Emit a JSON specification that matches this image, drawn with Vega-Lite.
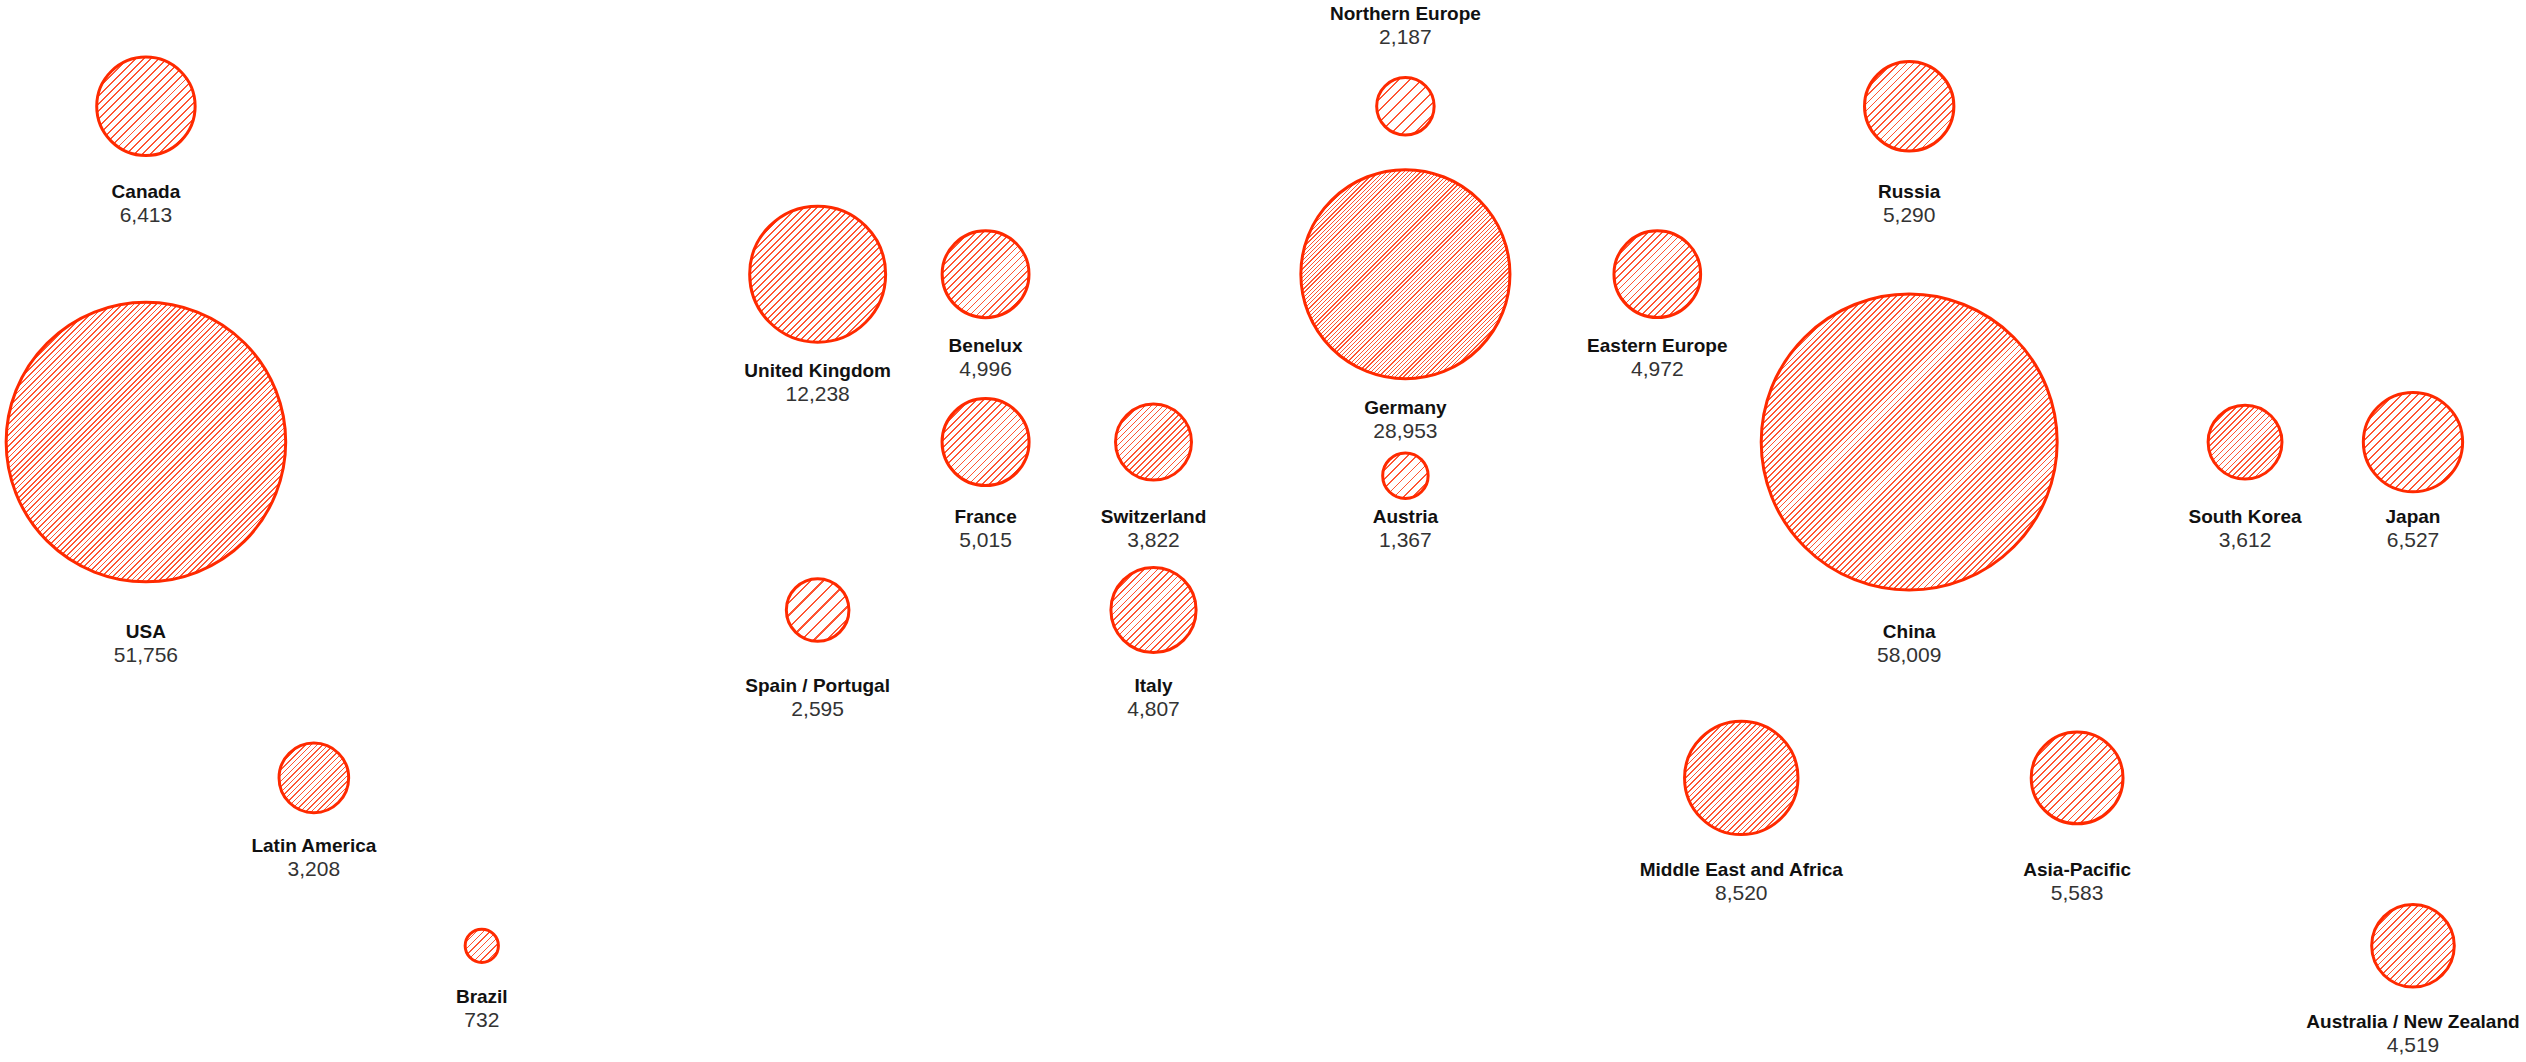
{
  "$schema": "https://vega.github.io/schema/vega-lite/v6.json",
  "width": 2526,
  "height": 1062,
  "autosize": {"type": "fit", "contains": "padding"},
  "padding": 0,
  "background": "white",
  "config": {"view": {"stroke": null}},
  "data": {"values": [
    {"name": "Canada", "value": 6413, "gx": 0, "gy": 0, "ly": 0.509},
    {"name": "USA", "value": 51756, "gx": 0, "gy": 2, "ly": 3.13},
    {"name": "Latin America", "value": 3208, "gx": 1, "gy": 4, "ly": 4.405},
    {"name": "Brazil", "value": 732, "gx": 2, "gy": 5, "ly": 5.307},
    {"name": "United Kingdom", "value": 12238, "gx": 4, "gy": 1, "ly": 1.574},
    {"name": "Benelux", "value": 4996, "gx": 5, "gy": 1, "ly": 1.43},
    {"name": "France", "value": 5015, "gx": 5, "gy": 2, "ly": 2.447},
    {"name": "Switzerland", "value": 3822, "gx": 6, "gy": 2, "ly": 2.447},
    {"name": "Spain / Portugal", "value": 2595, "gx": 4, "gy": 3, "ly": 3.455},
    {"name": "Italy", "value": 4807, "gx": 6, "gy": 3, "ly": 3.455},
    {"name": "Northern Europe", "value": 2187, "gx": 7.5, "gy": 0, "ly": -0.547},
    {"name": "Germany", "value": 28953, "gx": 7.5, "gy": 1, "ly": 1.795},
    {"name": "Austria", "value": 1367, "gx": 7.5, "gy": 2.2, "ly": 2.447},
    {"name": "Eastern Europe", "value": 4972, "gx": 9, "gy": 1, "ly": 1.43},
    {"name": "Russia", "value": 5290, "gx": 10.5, "gy": 0, "ly": 0.509},
    {"name": "China", "value": 58009, "gx": 10.5, "gy": 2, "ly": 3.13},
    {"name": "South Korea", "value": 3612, "gx": 12.5, "gy": 2, "ly": 2.447},
    {"name": "Japan", "value": 6527, "gx": 13.5, "gy": 2, "ly": 2.447},
    {"name": "Middle East and Africa", "value": 8520, "gx": 9.5, "gy": 4, "ly": 4.549},
    {"name": "Asia-Pacific", "value": 5583, "gx": 11.5, "gy": 4, "ly": 4.549},
    {"name": "Australia / New Zealand", "value": 4519, "gx": 13.5, "gy": 5, "ly": 5.451}
  ]},
  "encoding": {
    "x": {"field": "gx", "type": "quantitative", "scale": {"domain": [-0.863, 14.173], "nice": false, "zero": false}, "axis": null}
  },
  "layer": [
    {
      "transform": [{"filter": "datum.value > 20000"}],
      "mark": {"type": "circle", "stroke": "#ff2a00", "strokeWidth": 3, "opacity": 1,
        "fill": {"gradient": "linear", "x1": 0, "y1": 0, "x2": 1, "y2": 1, "stops": [
{"offset":0,"color":"#f53"},{"offset":0.003,"color":"#f53"},{"offset":0.003,"color":"#fff"},{"offset":0.01,"color":"#fff"},
{"offset":0.01,"color":"#f53"},{"offset":0.013,"color":"#f53"},{"offset":0.013,"color":"#fff"},{"offset":0.02,"color":"#fff"},
{"offset":0.02,"color":"#f53"},{"offset":0.023,"color":"#f53"},{"offset":0.023,"color":"#fff"},{"offset":0.03,"color":"#fff"},
{"offset":0.03,"color":"#f53"},{"offset":0.033,"color":"#f53"},{"offset":0.033,"color":"#fff"},{"offset":0.04,"color":"#fff"},
{"offset":0.04,"color":"#f53"},{"offset":0.043,"color":"#f53"},{"offset":0.043,"color":"#fff"},{"offset":0.05,"color":"#fff"},
{"offset":0.05,"color":"#f53"},{"offset":0.053,"color":"#f53"},{"offset":0.053,"color":"#fff"},{"offset":0.06,"color":"#fff"},
{"offset":0.06,"color":"#f53"},{"offset":0.063,"color":"#f53"},{"offset":0.063,"color":"#fff"},{"offset":0.07,"color":"#fff"},
{"offset":0.07,"color":"#f53"},{"offset":0.073,"color":"#f53"},{"offset":0.073,"color":"#fff"},{"offset":0.08,"color":"#fff"},
{"offset":0.08,"color":"#f53"},{"offset":0.083,"color":"#f53"},{"offset":0.083,"color":"#fff"},{"offset":0.09,"color":"#fff"},
{"offset":0.09,"color":"#f53"},{"offset":0.093,"color":"#f53"},{"offset":0.093,"color":"#fff"},{"offset":0.1,"color":"#fff"},
{"offset":0.1,"color":"#f53"},{"offset":0.103,"color":"#f53"},{"offset":0.103,"color":"#fff"},{"offset":0.11,"color":"#fff"},
{"offset":0.11,"color":"#f53"},{"offset":0.113,"color":"#f53"},{"offset":0.113,"color":"#fff"},{"offset":0.12,"color":"#fff"},
{"offset":0.12,"color":"#f53"},{"offset":0.123,"color":"#f53"},{"offset":0.123,"color":"#fff"},{"offset":0.13,"color":"#fff"},
{"offset":0.13,"color":"#f53"},{"offset":0.133,"color":"#f53"},{"offset":0.133,"color":"#fff"},{"offset":0.14,"color":"#fff"},
{"offset":0.14,"color":"#f53"},{"offset":0.143,"color":"#f53"},{"offset":0.143,"color":"#fff"},{"offset":0.15,"color":"#fff"},
{"offset":0.15,"color":"#f53"},{"offset":0.153,"color":"#f53"},{"offset":0.153,"color":"#fff"},{"offset":0.16,"color":"#fff"},
{"offset":0.16,"color":"#f53"},{"offset":0.163,"color":"#f53"},{"offset":0.163,"color":"#fff"},{"offset":0.17,"color":"#fff"},
{"offset":0.17,"color":"#f53"},{"offset":0.173,"color":"#f53"},{"offset":0.173,"color":"#fff"},{"offset":0.18,"color":"#fff"},
{"offset":0.18,"color":"#f53"},{"offset":0.183,"color":"#f53"},{"offset":0.183,"color":"#fff"},{"offset":0.19,"color":"#fff"},
{"offset":0.19,"color":"#f53"},{"offset":0.193,"color":"#f53"},{"offset":0.193,"color":"#fff"},{"offset":0.2,"color":"#fff"},
{"offset":0.2,"color":"#f53"},{"offset":0.203,"color":"#f53"},{"offset":0.203,"color":"#fff"},{"offset":0.21,"color":"#fff"},
{"offset":0.21,"color":"#f53"},{"offset":0.213,"color":"#f53"},{"offset":0.213,"color":"#fff"},{"offset":0.22,"color":"#fff"},
{"offset":0.22,"color":"#f53"},{"offset":0.223,"color":"#f53"},{"offset":0.223,"color":"#fff"},{"offset":0.23,"color":"#fff"},
{"offset":0.23,"color":"#f53"},{"offset":0.233,"color":"#f53"},{"offset":0.233,"color":"#fff"},{"offset":0.24,"color":"#fff"},
{"offset":0.24,"color":"#f53"},{"offset":0.243,"color":"#f53"},{"offset":0.243,"color":"#fff"},{"offset":0.25,"color":"#fff"},
{"offset":0.25,"color":"#f53"},{"offset":0.253,"color":"#f53"},{"offset":0.253,"color":"#fff"},{"offset":0.26,"color":"#fff"},
{"offset":0.26,"color":"#f53"},{"offset":0.263,"color":"#f53"},{"offset":0.263,"color":"#fff"},{"offset":0.27,"color":"#fff"},
{"offset":0.27,"color":"#f53"},{"offset":0.273,"color":"#f53"},{"offset":0.273,"color":"#fff"},{"offset":0.28,"color":"#fff"},
{"offset":0.28,"color":"#f53"},{"offset":0.283,"color":"#f53"},{"offset":0.283,"color":"#fff"},{"offset":0.29,"color":"#fff"},
{"offset":0.29,"color":"#f53"},{"offset":0.293,"color":"#f53"},{"offset":0.293,"color":"#fff"},{"offset":0.3,"color":"#fff"},
{"offset":0.3,"color":"#f53"},{"offset":0.303,"color":"#f53"},{"offset":0.303,"color":"#fff"},{"offset":0.31,"color":"#fff"},
{"offset":0.31,"color":"#f53"},{"offset":0.313,"color":"#f53"},{"offset":0.313,"color":"#fff"},{"offset":0.32,"color":"#fff"},
{"offset":0.32,"color":"#f53"},{"offset":0.323,"color":"#f53"},{"offset":0.323,"color":"#fff"},{"offset":0.33,"color":"#fff"},
{"offset":0.33,"color":"#f53"},{"offset":0.333,"color":"#f53"},{"offset":0.333,"color":"#fff"},{"offset":0.34,"color":"#fff"},
{"offset":0.34,"color":"#f53"},{"offset":0.343,"color":"#f53"},{"offset":0.343,"color":"#fff"},{"offset":0.35,"color":"#fff"},
{"offset":0.35,"color":"#f53"},{"offset":0.353,"color":"#f53"},{"offset":0.353,"color":"#fff"},{"offset":0.36,"color":"#fff"},
{"offset":0.36,"color":"#f53"},{"offset":0.363,"color":"#f53"},{"offset":0.363,"color":"#fff"},{"offset":0.37,"color":"#fff"},
{"offset":0.37,"color":"#f53"},{"offset":0.373,"color":"#f53"},{"offset":0.373,"color":"#fff"},{"offset":0.38,"color":"#fff"},
{"offset":0.38,"color":"#f53"},{"offset":0.383,"color":"#f53"},{"offset":0.383,"color":"#fff"},{"offset":0.39,"color":"#fff"},
{"offset":0.39,"color":"#f53"},{"offset":0.393,"color":"#f53"},{"offset":0.393,"color":"#fff"},{"offset":0.4,"color":"#fff"},
{"offset":0.4,"color":"#f53"},{"offset":0.403,"color":"#f53"},{"offset":0.403,"color":"#fff"},{"offset":0.41,"color":"#fff"},
{"offset":0.41,"color":"#f53"},{"offset":0.413,"color":"#f53"},{"offset":0.413,"color":"#fff"},{"offset":0.42,"color":"#fff"},
{"offset":0.42,"color":"#f53"},{"offset":0.423,"color":"#f53"},{"offset":0.423,"color":"#fff"},{"offset":0.43,"color":"#fff"},
{"offset":0.43,"color":"#f53"},{"offset":0.433,"color":"#f53"},{"offset":0.433,"color":"#fff"},{"offset":0.44,"color":"#fff"},
{"offset":0.44,"color":"#f53"},{"offset":0.443,"color":"#f53"},{"offset":0.443,"color":"#fff"},{"offset":0.45,"color":"#fff"},
{"offset":0.45,"color":"#f53"},{"offset":0.453,"color":"#f53"},{"offset":0.453,"color":"#fff"},{"offset":0.46,"color":"#fff"},
{"offset":0.46,"color":"#f53"},{"offset":0.463,"color":"#f53"},{"offset":0.463,"color":"#fff"},{"offset":0.47,"color":"#fff"},
{"offset":0.47,"color":"#f53"},{"offset":0.473,"color":"#f53"},{"offset":0.473,"color":"#fff"},{"offset":0.48,"color":"#fff"},
{"offset":0.48,"color":"#f53"},{"offset":0.483,"color":"#f53"},{"offset":0.483,"color":"#fff"},{"offset":0.49,"color":"#fff"},
{"offset":0.49,"color":"#f53"},{"offset":0.493,"color":"#f53"},{"offset":0.493,"color":"#fff"},{"offset":0.5,"color":"#fff"},
{"offset":0.5,"color":"#f53"},{"offset":0.503,"color":"#f53"},{"offset":0.503,"color":"#fff"},{"offset":0.51,"color":"#fff"},
{"offset":0.51,"color":"#f53"},{"offset":0.513,"color":"#f53"},{"offset":0.513,"color":"#fff"},{"offset":0.52,"color":"#fff"},
{"offset":0.52,"color":"#f53"},{"offset":0.523,"color":"#f53"},{"offset":0.523,"color":"#fff"},{"offset":0.53,"color":"#fff"},
{"offset":0.53,"color":"#f53"},{"offset":0.533,"color":"#f53"},{"offset":0.533,"color":"#fff"},{"offset":0.54,"color":"#fff"},
{"offset":0.54,"color":"#f53"},{"offset":0.543,"color":"#f53"},{"offset":0.543,"color":"#fff"},{"offset":0.55,"color":"#fff"},
{"offset":0.55,"color":"#f53"},{"offset":0.553,"color":"#f53"},{"offset":0.553,"color":"#fff"},{"offset":0.56,"color":"#fff"},
{"offset":0.56,"color":"#f53"},{"offset":0.563,"color":"#f53"},{"offset":0.563,"color":"#fff"},{"offset":0.57,"color":"#fff"},
{"offset":0.57,"color":"#f53"},{"offset":0.573,"color":"#f53"},{"offset":0.573,"color":"#fff"},{"offset":0.58,"color":"#fff"},
{"offset":0.58,"color":"#f53"},{"offset":0.583,"color":"#f53"},{"offset":0.583,"color":"#fff"},{"offset":0.59,"color":"#fff"},
{"offset":0.59,"color":"#f53"},{"offset":0.593,"color":"#f53"},{"offset":0.593,"color":"#fff"},{"offset":0.6,"color":"#fff"},
{"offset":0.6,"color":"#f53"},{"offset":0.603,"color":"#f53"},{"offset":0.603,"color":"#fff"},{"offset":0.61,"color":"#fff"},
{"offset":0.61,"color":"#f53"},{"offset":0.613,"color":"#f53"},{"offset":0.613,"color":"#fff"},{"offset":0.62,"color":"#fff"},
{"offset":0.62,"color":"#f53"},{"offset":0.623,"color":"#f53"},{"offset":0.623,"color":"#fff"},{"offset":0.63,"color":"#fff"},
{"offset":0.63,"color":"#f53"},{"offset":0.633,"color":"#f53"},{"offset":0.633,"color":"#fff"},{"offset":0.64,"color":"#fff"},
{"offset":0.64,"color":"#f53"},{"offset":0.643,"color":"#f53"},{"offset":0.643,"color":"#fff"},{"offset":0.65,"color":"#fff"},
{"offset":0.65,"color":"#f53"},{"offset":0.653,"color":"#f53"},{"offset":0.653,"color":"#fff"},{"offset":0.66,"color":"#fff"},
{"offset":0.66,"color":"#f53"},{"offset":0.663,"color":"#f53"},{"offset":0.663,"color":"#fff"},{"offset":0.67,"color":"#fff"},
{"offset":0.67,"color":"#f53"},{"offset":0.673,"color":"#f53"},{"offset":0.673,"color":"#fff"},{"offset":0.68,"color":"#fff"},
{"offset":0.68,"color":"#f53"},{"offset":0.683,"color":"#f53"},{"offset":0.683,"color":"#fff"},{"offset":0.69,"color":"#fff"},
{"offset":0.69,"color":"#f53"},{"offset":0.693,"color":"#f53"},{"offset":0.693,"color":"#fff"},{"offset":0.7,"color":"#fff"},
{"offset":0.7,"color":"#f53"},{"offset":0.703,"color":"#f53"},{"offset":0.703,"color":"#fff"},{"offset":0.71,"color":"#fff"},
{"offset":0.71,"color":"#f53"},{"offset":0.713,"color":"#f53"},{"offset":0.713,"color":"#fff"},{"offset":0.72,"color":"#fff"},
{"offset":0.72,"color":"#f53"},{"offset":0.723,"color":"#f53"},{"offset":0.723,"color":"#fff"},{"offset":0.73,"color":"#fff"},
{"offset":0.73,"color":"#f53"},{"offset":0.733,"color":"#f53"},{"offset":0.733,"color":"#fff"},{"offset":0.74,"color":"#fff"},
{"offset":0.74,"color":"#f53"},{"offset":0.743,"color":"#f53"},{"offset":0.743,"color":"#fff"},{"offset":0.75,"color":"#fff"},
{"offset":0.75,"color":"#f53"},{"offset":0.753,"color":"#f53"},{"offset":0.753,"color":"#fff"},{"offset":0.76,"color":"#fff"},
{"offset":0.76,"color":"#f53"},{"offset":0.763,"color":"#f53"},{"offset":0.763,"color":"#fff"},{"offset":0.77,"color":"#fff"},
{"offset":0.77,"color":"#f53"},{"offset":0.773,"color":"#f53"},{"offset":0.773,"color":"#fff"},{"offset":0.78,"color":"#fff"},
{"offset":0.78,"color":"#f53"},{"offset":0.783,"color":"#f53"},{"offset":0.783,"color":"#fff"},{"offset":0.79,"color":"#fff"},
{"offset":0.79,"color":"#f53"},{"offset":0.793,"color":"#f53"},{"offset":0.793,"color":"#fff"},{"offset":0.8,"color":"#fff"},
{"offset":0.8,"color":"#f53"},{"offset":0.803,"color":"#f53"},{"offset":0.803,"color":"#fff"},{"offset":0.81,"color":"#fff"},
{"offset":0.81,"color":"#f53"},{"offset":0.813,"color":"#f53"},{"offset":0.813,"color":"#fff"},{"offset":0.82,"color":"#fff"},
{"offset":0.82,"color":"#f53"},{"offset":0.823,"color":"#f53"},{"offset":0.823,"color":"#fff"},{"offset":0.83,"color":"#fff"},
{"offset":0.83,"color":"#f53"},{"offset":0.833,"color":"#f53"},{"offset":0.833,"color":"#fff"},{"offset":0.84,"color":"#fff"},
{"offset":0.84,"color":"#f53"},{"offset":0.843,"color":"#f53"},{"offset":0.843,"color":"#fff"},{"offset":0.85,"color":"#fff"},
{"offset":0.85,"color":"#f53"},{"offset":0.853,"color":"#f53"},{"offset":0.853,"color":"#fff"},{"offset":0.86,"color":"#fff"},
{"offset":0.86,"color":"#f53"},{"offset":0.863,"color":"#f53"},{"offset":0.863,"color":"#fff"},{"offset":0.87,"color":"#fff"},
{"offset":0.87,"color":"#f53"},{"offset":0.873,"color":"#f53"},{"offset":0.873,"color":"#fff"},{"offset":0.88,"color":"#fff"},
{"offset":0.88,"color":"#f53"},{"offset":0.883,"color":"#f53"},{"offset":0.883,"color":"#fff"},{"offset":0.89,"color":"#fff"},
{"offset":0.89,"color":"#f53"},{"offset":0.893,"color":"#f53"},{"offset":0.893,"color":"#fff"},{"offset":0.9,"color":"#fff"},
{"offset":0.9,"color":"#f53"},{"offset":0.903,"color":"#f53"},{"offset":0.903,"color":"#fff"},{"offset":0.91,"color":"#fff"},
{"offset":0.91,"color":"#f53"},{"offset":0.913,"color":"#f53"},{"offset":0.913,"color":"#fff"},{"offset":0.92,"color":"#fff"},
{"offset":0.92,"color":"#f53"},{"offset":0.923,"color":"#f53"},{"offset":0.923,"color":"#fff"},{"offset":0.93,"color":"#fff"},
{"offset":0.93,"color":"#f53"},{"offset":0.933,"color":"#f53"},{"offset":0.933,"color":"#fff"},{"offset":0.94,"color":"#fff"},
{"offset":0.94,"color":"#f53"},{"offset":0.943,"color":"#f53"},{"offset":0.943,"color":"#fff"},{"offset":0.95,"color":"#fff"},
{"offset":0.95,"color":"#f53"},{"offset":0.953,"color":"#f53"},{"offset":0.953,"color":"#fff"},{"offset":0.96,"color":"#fff"},
{"offset":0.96,"color":"#f53"},{"offset":0.963,"color":"#f53"},{"offset":0.963,"color":"#fff"},{"offset":0.97,"color":"#fff"},
{"offset":0.97,"color":"#f53"},{"offset":0.973,"color":"#f53"},{"offset":0.973,"color":"#fff"},{"offset":0.98,"color":"#fff"},
{"offset":0.98,"color":"#f53"},{"offset":0.983,"color":"#f53"},{"offset":0.983,"color":"#fff"},{"offset":0.99,"color":"#fff"},
{"offset":0.99,"color":"#f53"},{"offset":0.993,"color":"#f53"},{"offset":0.993,"color":"#fff"},{"offset":1,"color":"#fff"}
        ]}},
      "encoding": {
        "y": {"field": "gy", "type": "quantitative", "scale": {"domain": [-0.633, 5.692], "nice": false, "zero": false, "reverse": true}, "axis": null},
        "size": {"field": "value", "type": "quantitative", "scale": {"type": "linear", "domain": [0, 60000], "range": [0, 90600]}, "legend": null}
      }
    },
    {
      "transform": [{"filter": "datum.value > 8000 && datum.value <= 20000"}],
      "mark": {"type": "circle", "stroke": "#ff2a00", "strokeWidth": 3, "opacity": 1,
        "fill": {"gradient": "linear", "x1": 0, "y1": 0, "x2": 1, "y2": 1, "stops": [
{"offset":0,"color":"#f53"},{"offset":0.0075,"color":"#f53"},{"offset":0.0075,"color":"#fff"},{"offset":0.025,"color":"#fff"},
{"offset":0.025,"color":"#f53"},{"offset":0.0325,"color":"#f53"},{"offset":0.0325,"color":"#fff"},{"offset":0.05,"color":"#fff"},
{"offset":0.05,"color":"#f53"},{"offset":0.0575,"color":"#f53"},{"offset":0.0575,"color":"#fff"},{"offset":0.075,"color":"#fff"},
{"offset":0.075,"color":"#f53"},{"offset":0.0825,"color":"#f53"},{"offset":0.0825,"color":"#fff"},{"offset":0.1,"color":"#fff"},
{"offset":0.1,"color":"#f53"},{"offset":0.1075,"color":"#f53"},{"offset":0.1075,"color":"#fff"},{"offset":0.125,"color":"#fff"},
{"offset":0.125,"color":"#f53"},{"offset":0.1325,"color":"#f53"},{"offset":0.1325,"color":"#fff"},{"offset":0.15,"color":"#fff"},
{"offset":0.15,"color":"#f53"},{"offset":0.1575,"color":"#f53"},{"offset":0.1575,"color":"#fff"},{"offset":0.175,"color":"#fff"},
{"offset":0.175,"color":"#f53"},{"offset":0.1825,"color":"#f53"},{"offset":0.1825,"color":"#fff"},{"offset":0.2,"color":"#fff"},
{"offset":0.2,"color":"#f53"},{"offset":0.2075,"color":"#f53"},{"offset":0.2075,"color":"#fff"},{"offset":0.225,"color":"#fff"},
{"offset":0.225,"color":"#f53"},{"offset":0.2325,"color":"#f53"},{"offset":0.2325,"color":"#fff"},{"offset":0.25,"color":"#fff"},
{"offset":0.25,"color":"#f53"},{"offset":0.2575,"color":"#f53"},{"offset":0.2575,"color":"#fff"},{"offset":0.275,"color":"#fff"},
{"offset":0.275,"color":"#f53"},{"offset":0.2825,"color":"#f53"},{"offset":0.2825,"color":"#fff"},{"offset":0.3,"color":"#fff"},
{"offset":0.3,"color":"#f53"},{"offset":0.3075,"color":"#f53"},{"offset":0.3075,"color":"#fff"},{"offset":0.325,"color":"#fff"},
{"offset":0.325,"color":"#f53"},{"offset":0.3325,"color":"#f53"},{"offset":0.3325,"color":"#fff"},{"offset":0.35,"color":"#fff"},
{"offset":0.35,"color":"#f53"},{"offset":0.3575,"color":"#f53"},{"offset":0.3575,"color":"#fff"},{"offset":0.375,"color":"#fff"},
{"offset":0.375,"color":"#f53"},{"offset":0.3825,"color":"#f53"},{"offset":0.3825,"color":"#fff"},{"offset":0.4,"color":"#fff"},
{"offset":0.4,"color":"#f53"},{"offset":0.4075,"color":"#f53"},{"offset":0.4075,"color":"#fff"},{"offset":0.425,"color":"#fff"},
{"offset":0.425,"color":"#f53"},{"offset":0.4325,"color":"#f53"},{"offset":0.4325,"color":"#fff"},{"offset":0.45,"color":"#fff"},
{"offset":0.45,"color":"#f53"},{"offset":0.4575,"color":"#f53"},{"offset":0.4575,"color":"#fff"},{"offset":0.475,"color":"#fff"},
{"offset":0.475,"color":"#f53"},{"offset":0.4825,"color":"#f53"},{"offset":0.4825,"color":"#fff"},{"offset":0.5,"color":"#fff"},
{"offset":0.5,"color":"#f53"},{"offset":0.5075,"color":"#f53"},{"offset":0.5075,"color":"#fff"},{"offset":0.525,"color":"#fff"},
{"offset":0.525,"color":"#f53"},{"offset":0.5325,"color":"#f53"},{"offset":0.5325,"color":"#fff"},{"offset":0.55,"color":"#fff"},
{"offset":0.55,"color":"#f53"},{"offset":0.5575,"color":"#f53"},{"offset":0.5575,"color":"#fff"},{"offset":0.575,"color":"#fff"},
{"offset":0.575,"color":"#f53"},{"offset":0.5825,"color":"#f53"},{"offset":0.5825,"color":"#fff"},{"offset":0.6,"color":"#fff"},
{"offset":0.6,"color":"#f53"},{"offset":0.6075,"color":"#f53"},{"offset":0.6075,"color":"#fff"},{"offset":0.625,"color":"#fff"},
{"offset":0.625,"color":"#f53"},{"offset":0.6325,"color":"#f53"},{"offset":0.6325,"color":"#fff"},{"offset":0.65,"color":"#fff"},
{"offset":0.65,"color":"#f53"},{"offset":0.6575,"color":"#f53"},{"offset":0.6575,"color":"#fff"},{"offset":0.675,"color":"#fff"},
{"offset":0.675,"color":"#f53"},{"offset":0.6825,"color":"#f53"},{"offset":0.6825,"color":"#fff"},{"offset":0.7,"color":"#fff"},
{"offset":0.7,"color":"#f53"},{"offset":0.7075,"color":"#f53"},{"offset":0.7075,"color":"#fff"},{"offset":0.725,"color":"#fff"},
{"offset":0.725,"color":"#f53"},{"offset":0.7325,"color":"#f53"},{"offset":0.7325,"color":"#fff"},{"offset":0.75,"color":"#fff"},
{"offset":0.75,"color":"#f53"},{"offset":0.7575,"color":"#f53"},{"offset":0.7575,"color":"#fff"},{"offset":0.775,"color":"#fff"},
{"offset":0.775,"color":"#f53"},{"offset":0.7825,"color":"#f53"},{"offset":0.7825,"color":"#fff"},{"offset":0.8,"color":"#fff"},
{"offset":0.8,"color":"#f53"},{"offset":0.8075,"color":"#f53"},{"offset":0.8075,"color":"#fff"},{"offset":0.825,"color":"#fff"},
{"offset":0.825,"color":"#f53"},{"offset":0.8325,"color":"#f53"},{"offset":0.8325,"color":"#fff"},{"offset":0.85,"color":"#fff"},
{"offset":0.85,"color":"#f53"},{"offset":0.8575,"color":"#f53"},{"offset":0.8575,"color":"#fff"},{"offset":0.875,"color":"#fff"},
{"offset":0.875,"color":"#f53"},{"offset":0.8825,"color":"#f53"},{"offset":0.8825,"color":"#fff"},{"offset":0.9,"color":"#fff"},
{"offset":0.9,"color":"#f53"},{"offset":0.9075,"color":"#f53"},{"offset":0.9075,"color":"#fff"},{"offset":0.925,"color":"#fff"},
{"offset":0.925,"color":"#f53"},{"offset":0.9325,"color":"#f53"},{"offset":0.9325,"color":"#fff"},{"offset":0.95,"color":"#fff"},
{"offset":0.95,"color":"#f53"},{"offset":0.9575,"color":"#f53"},{"offset":0.9575,"color":"#fff"},{"offset":0.975,"color":"#fff"},
{"offset":0.975,"color":"#f53"},{"offset":0.9825,"color":"#f53"},{"offset":0.9825,"color":"#fff"},{"offset":1,"color":"#fff"}
        ]}},
      "encoding": {
        "y": {"field": "gy", "type": "quantitative"},
        "size": {"field": "value", "type": "quantitative"}
      }
    },
    {
      "transform": [{"filter": "datum.value > 3000 && datum.value <= 8000"}],
      "mark": {"type": "circle", "stroke": "#ff2a00", "strokeWidth": 3, "opacity": 1,
        "fill": {"gradient": "linear", "x1": 0, "y1": 0, "x2": 1, "y2": 1, "stops": [
          {"offset":0,"color":"#f53"},{"offset":0.01,"color":"#f53"},{"offset":0.01,"color":"#fff"},{"offset":0.04,"color":"#fff"},
          {"offset":0.04,"color":"#f53"},{"offset":0.05,"color":"#f53"},{"offset":0.05,"color":"#fff"},{"offset":0.08,"color":"#fff"},
          {"offset":0.08,"color":"#f53"},{"offset":0.09,"color":"#f53"},{"offset":0.09,"color":"#fff"},{"offset":0.12,"color":"#fff"},
          {"offset":0.12,"color":"#f53"},{"offset":0.13,"color":"#f53"},{"offset":0.13,"color":"#fff"},{"offset":0.16,"color":"#fff"},
          {"offset":0.16,"color":"#f53"},{"offset":0.17,"color":"#f53"},{"offset":0.17,"color":"#fff"},{"offset":0.2,"color":"#fff"},
          {"offset":0.2,"color":"#f53"},{"offset":0.21,"color":"#f53"},{"offset":0.21,"color":"#fff"},{"offset":0.24,"color":"#fff"},
          {"offset":0.24,"color":"#f53"},{"offset":0.25,"color":"#f53"},{"offset":0.25,"color":"#fff"},{"offset":0.28,"color":"#fff"},
          {"offset":0.28,"color":"#f53"},{"offset":0.29,"color":"#f53"},{"offset":0.29,"color":"#fff"},{"offset":0.32,"color":"#fff"},
          {"offset":0.32,"color":"#f53"},{"offset":0.33,"color":"#f53"},{"offset":0.33,"color":"#fff"},{"offset":0.36,"color":"#fff"},
          {"offset":0.36,"color":"#f53"},{"offset":0.37,"color":"#f53"},{"offset":0.37,"color":"#fff"},{"offset":0.4,"color":"#fff"},
          {"offset":0.4,"color":"#f53"},{"offset":0.41,"color":"#f53"},{"offset":0.41,"color":"#fff"},{"offset":0.44,"color":"#fff"},
          {"offset":0.44,"color":"#f53"},{"offset":0.45,"color":"#f53"},{"offset":0.45,"color":"#fff"},{"offset":0.48,"color":"#fff"},
          {"offset":0.48,"color":"#f53"},{"offset":0.49,"color":"#f53"},{"offset":0.49,"color":"#fff"},{"offset":0.52,"color":"#fff"},
          {"offset":0.52,"color":"#f53"},{"offset":0.53,"color":"#f53"},{"offset":0.53,"color":"#fff"},{"offset":0.56,"color":"#fff"},
          {"offset":0.56,"color":"#f53"},{"offset":0.57,"color":"#f53"},{"offset":0.57,"color":"#fff"},{"offset":0.6,"color":"#fff"},
          {"offset":0.6,"color":"#f53"},{"offset":0.61,"color":"#f53"},{"offset":0.61,"color":"#fff"},{"offset":0.64,"color":"#fff"},
          {"offset":0.64,"color":"#f53"},{"offset":0.65,"color":"#f53"},{"offset":0.65,"color":"#fff"},{"offset":0.68,"color":"#fff"},
          {"offset":0.68,"color":"#f53"},{"offset":0.69,"color":"#f53"},{"offset":0.69,"color":"#fff"},{"offset":0.72,"color":"#fff"},
          {"offset":0.72,"color":"#f53"},{"offset":0.73,"color":"#f53"},{"offset":0.73,"color":"#fff"},{"offset":0.76,"color":"#fff"},
          {"offset":0.76,"color":"#f53"},{"offset":0.77,"color":"#f53"},{"offset":0.77,"color":"#fff"},{"offset":0.8,"color":"#fff"},
          {"offset":0.8,"color":"#f53"},{"offset":0.81,"color":"#f53"},{"offset":0.81,"color":"#fff"},{"offset":0.84,"color":"#fff"},
          {"offset":0.84,"color":"#f53"},{"offset":0.85,"color":"#f53"},{"offset":0.85,"color":"#fff"},{"offset":0.88,"color":"#fff"},
          {"offset":0.88,"color":"#f53"},{"offset":0.89,"color":"#f53"},{"offset":0.89,"color":"#fff"},{"offset":0.92,"color":"#fff"},
          {"offset":0.92,"color":"#f53"},{"offset":0.93,"color":"#f53"},{"offset":0.93,"color":"#fff"},{"offset":0.96,"color":"#fff"},
          {"offset":0.96,"color":"#f53"},{"offset":0.97,"color":"#f53"},{"offset":0.97,"color":"#fff"},{"offset":1,"color":"#fff"}
        ]}},
      "encoding": {
        "y": {"field": "gy", "type": "quantitative"},
        "size": {"field": "value", "type": "quantitative"}
      }
    },
    {
      "transform": [{"filter": "datum.value <= 3000"}],
      "mark": {"type": "circle", "stroke": "#ff2a00", "strokeWidth": 3, "opacity": 1,
        "fill": {"gradient": "linear", "x1": 0, "y1": 0, "x2": 1, "y2": 1, "stops": [
          {"offset":0,"color":"#f53"},{"offset":0.02,"color":"#f53"},{"offset":0.02,"color":"#fff"},{"offset":0.1,"color":"#fff"},
          {"offset":0.1,"color":"#f53"},{"offset":0.12,"color":"#f53"},{"offset":0.12,"color":"#fff"},{"offset":0.2,"color":"#fff"},
          {"offset":0.2,"color":"#f53"},{"offset":0.22,"color":"#f53"},{"offset":0.22,"color":"#fff"},{"offset":0.3,"color":"#fff"},
          {"offset":0.3,"color":"#f53"},{"offset":0.32,"color":"#f53"},{"offset":0.32,"color":"#fff"},{"offset":0.4,"color":"#fff"},
          {"offset":0.4,"color":"#f53"},{"offset":0.42,"color":"#f53"},{"offset":0.42,"color":"#fff"},{"offset":0.5,"color":"#fff"},
          {"offset":0.5,"color":"#f53"},{"offset":0.52,"color":"#f53"},{"offset":0.52,"color":"#fff"},{"offset":0.6,"color":"#fff"},
          {"offset":0.6,"color":"#f53"},{"offset":0.62,"color":"#f53"},{"offset":0.62,"color":"#fff"},{"offset":0.7,"color":"#fff"},
          {"offset":0.7,"color":"#f53"},{"offset":0.72,"color":"#f53"},{"offset":0.72,"color":"#fff"},{"offset":0.8,"color":"#fff"},
          {"offset":0.8,"color":"#f53"},{"offset":0.82,"color":"#f53"},{"offset":0.82,"color":"#fff"},{"offset":0.9,"color":"#fff"},
          {"offset":0.9,"color":"#f53"},{"offset":0.92,"color":"#f53"},{"offset":0.92,"color":"#fff"},{"offset":1,"color":"#fff"}
        ]}},
      "encoding": {
        "y": {"field": "gy", "type": "quantitative"},
        "size": {"field": "value", "type": "quantitative"}
      }
    },
    {
      "mark": {"type": "text", "font": "Liberation Sans", "fontWeight": "bold", "fontSize": 19, "color": "#111111", "baseline": "middle", "align": "center"},
      "encoding": {
        "y": {"field": "ly", "type": "quantitative"},
        "text": {"field": "name", "type": "nominal"}
      }
    },
    {
      "mark": {"type": "text", "font": "Liberation Sans", "fontSize": 21, "color": "#333333", "baseline": "middle", "align": "center", "dy": 24},
      "encoding": {
        "y": {"field": "ly", "type": "quantitative"},
        "text": {"field": "value", "type": "quantitative", "format": ","}
      }
    }
  ]
}
